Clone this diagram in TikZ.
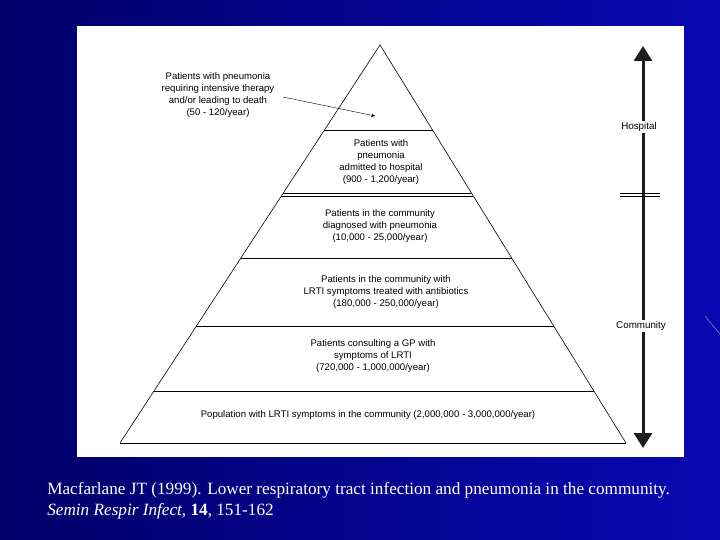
\documentclass[tikz,border=0pt]{standalone}
\usepackage{fontspec}
\setmainfont{Liberation Serif}
\newfontfamily\figfont{Liberation Sans}
\usetikzlibrary{arrows, arrows.meta, calc, positioning}

\definecolor{slidenavy}{RGB}{0,0,105}
\definecolor{slideblue}{RGB}{8,8,178}
\definecolor{axisgray}{RGB}{30,30,30}

\begin{document}
\begin{tikzpicture}[x=1pt, y=-1pt, >=stealth', semithick,
		tier/.style={align=center, font=\figfont\fontsize{9.6}{11.7}\selectfont, inner sep=1pt},
		side/.style={font=\figfont\fontsize{9.8}{10}\selectfont, fill=white, inner sep=1.5pt},
		cite/.style={anchor=west, text=white, inner sep=0pt, font=\fontsize{17.2}{21}\selectfont},
		level/.style={line width=0.9pt}]
	\useasboundingbox (0,0) rectangle (720,540);
	\shade[left color=slidenavy, right color=slideblue] (0,0) rectangle (720,540);
	\draw[color=violet!40, thin] (705,316) -- (720,334);
	\fill[white] (77,26) rectangle (684,457);

	% pyramid
	\coordinate (apex) at (380,45);
	\coordinate (bl) at (120,443);
	\coordinate (br) at (626,443);
	\draw[line width=0.6pt] (bl) -- (apex) -- (br);
	\draw[level] (bl) -- (br);
	\foreach \t in {0.2136, 0.3719, 0.3794, 0.5352, 0.7060, 0.8693}
		\draw[level] ($(apex)!\t!(bl)$) -- ($(apex)!\t!(br)$);

	% labels
	\node[tier]	(icu)	at (218,95)	{Patients with pneumonia\\requiring intensive therapy\\and/or leading to death\\(50 - 120/year)};
	\node[tier]	(hosp)	at (381,162)	{Patients with\\pneumonia\\admitted to hospital\\(900 - 1,200/year)};
	\node[tier]	(diag)	at (380,226)	{Patients in the community\\diagnosed with pneumonia\\(10,000 - 25,000/year)};
	\node[tier]	(abx)	at (386,292)	{Patients in the community with\\LRTI symptoms treated with antibiotics\\(180,000 - 250,000/year)};
	\node[tier]	(gp)	at (373,356)	{Patients consulting a GP with\\symptoms of LRTI\\(720,000 - 1,000,000/year)};
	\node[tier]	(pop)	at (368,415)	{Population with LRTI symptoms in the community (2,000,000 - 3,000,000/year)};

	\coordinate (icutail) at (283,97);
	\coordinate (icutip) at (375,116);
	\draw[->, thin] (icutail) -- (icutip);

	% setting axis
	\coordinate (top) at (643,46);
	\coordinate (bot) at (643,448);
	\draw[axisgray, line width=3pt, {Triangle[length=15pt, width=18pt]}-{Triangle[length=15pt, width=18pt]}] (top) -- (bot);
	\draw[thin] (620,193.5) -- (660,193.5) (620,196.5) -- (660,196.5);
	\node[side]	(hospital)	at (639,127)	{Hospital};
	\node[side]	(community)	at (641,326)	{Community};

	% reference
	\node[cite]	(ref1)	at (47,490)	{Macfarlane JT (1999). Lower respiratory tract infection and pneumonia in the community.};
	\node[cite]	(ref2)	at (47,511)	{\textit{Semin Respir Infect}, \textbf{14}, 151-162};
\end{tikzpicture}
\end{document}
